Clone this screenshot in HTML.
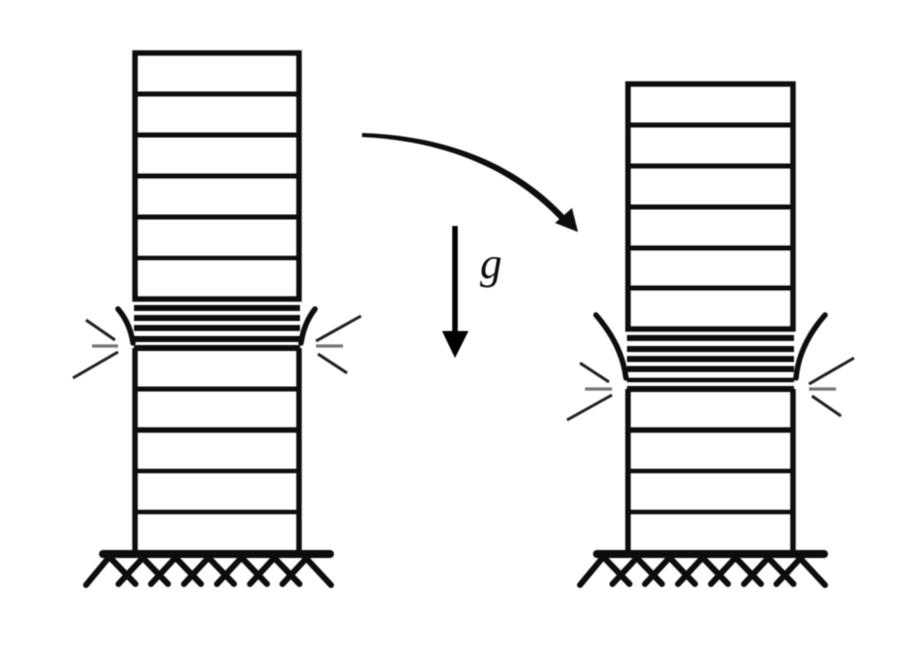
<!DOCTYPE html>
<html>
<head>
<meta charset="utf-8">
<style>
html,body{margin:0;padding:0;background:#fff;width:924px;height:652px;overflow:hidden}
svg{display:block}
</style>
</head>
<body>
<svg width="924" height="652" viewBox="0 0 924 652" xmlns="http://www.w3.org/2000/svg">
<defs>
<filter id="b" x="0" y="0" width="924" height="652" filterUnits="userSpaceOnUse"><feGaussianBlur stdDeviation="0.55"/></filter>
<g id="x" stroke="#111" stroke-width="6" stroke-linecap="round">
<line x1="-18" y1="556" x2="9" y2="584"/>
<line x1="18" y1="556" x2="-8" y2="584"/>
</g>
<g id="ground">
<line x1="103" y1="554" x2="330" y2="554" stroke="#111" stroke-width="8" stroke-linecap="round"/>
<line x1="110" y1="556" x2="86" y2="585" stroke="#111" stroke-width="6" stroke-linecap="round"/>
<line x1="304" y1="556" x2="331" y2="585" stroke="#111" stroke-width="6" stroke-linecap="round"/>
<use href="#x" x="126.5"/>
<use href="#x" x="159"/>
<use href="#x" x="192"/>
<use href="#x" x="225"/>
<use href="#x" x="258"/>
<use href="#x" x="290.5"/>
</g>
</defs>

<g filter="url(#b)">
<!-- Left building -->
<g stroke="#111" fill="none" stroke-linecap="butt">
<path d="M135 299V53H299V299Z" stroke-width="5.5"/>
<path d="M135 348V553M299 348V553" stroke-width="5.5"/>
<path d="M135 94H299M135 135H299M135 176H299M135 217H299" stroke-width="5"/>
<path d="M135 258H299" stroke-width="4.5"/>
<path d="M134 308H300M134 318H300M134 328H300M134 339H300M134 348H300" stroke-width="6"/>
<path d="M135 389H299" stroke-width="5"/>
<path d="M135 430H299" stroke-width="5.5"/>
<path d="M135 471H299M135 512H299" stroke-width="4.5"/>
<path d="M118 309Q130 323 133 343M315 309Q304 323 301 343" stroke-width="5.5" stroke-linecap="round"/>
<path d="M86 320L115 340M118 352L73 378M316 341L361 316M318 354L347 373" stroke-width="3" stroke="#222"/>
<path d="M92 346H118M316 346H343" stroke-width="3.2" stroke="#777"/>
</g>
<use href="#ground"/>

<!-- Right building -->
<g stroke="#111" fill="none">
<path d="M628 329V84H793V329Z" stroke-width="5.5"/>
<path d="M628 389V553M793 389V553" stroke-width="5.5"/>
<path d="M628 125H793M628 166H793M628 207H793M628 248H793M628 288H793" stroke-width="5"/>
<path d="M627 338H794M627 349H794M627 359H794M627 369H794" stroke-width="6"/>
<path d="M627 380H794" stroke-width="4.5"/>
<path d="M627 389H794" stroke-width="6"/>
<path d="M628 430H793" stroke-width="5.5"/>
<path d="M628 471H793M628 512H793" stroke-width="4.5"/>
<path d="M596 315Q622 345 626 378M825 315Q799 345 796 378" stroke-width="5.5" stroke-linecap="round"/>
<path d="M580 363L609 382M612 395L567 420M809 384L854 358M812 396L841 416" stroke-width="3" stroke="#222"/>
<path d="M585 389H612M809 389H836" stroke-width="3.2" stroke="#777"/>
</g>
<use href="#ground" x="494"/>

<!-- Curved arrow -->
<path d="M362 133C425 135 507 152 567 218L562 222C503 158 425 140 362 137Z" fill="#111"/>
<polygon points="578,232 572,208 555,223" fill="#111"/>

<!-- Gravity arrow -->
<line x1="455" y1="226" x2="455" y2="335" stroke="#000" stroke-width="5.5"/>
<polygon points="442,331 468.5,331 455,358" fill="#000"/>
<text x="480" y="278" font-family="'Liberation Serif',serif" font-style="italic" font-size="44" fill="#111">g</text>
</g>
</svg>
</body>
</html>
